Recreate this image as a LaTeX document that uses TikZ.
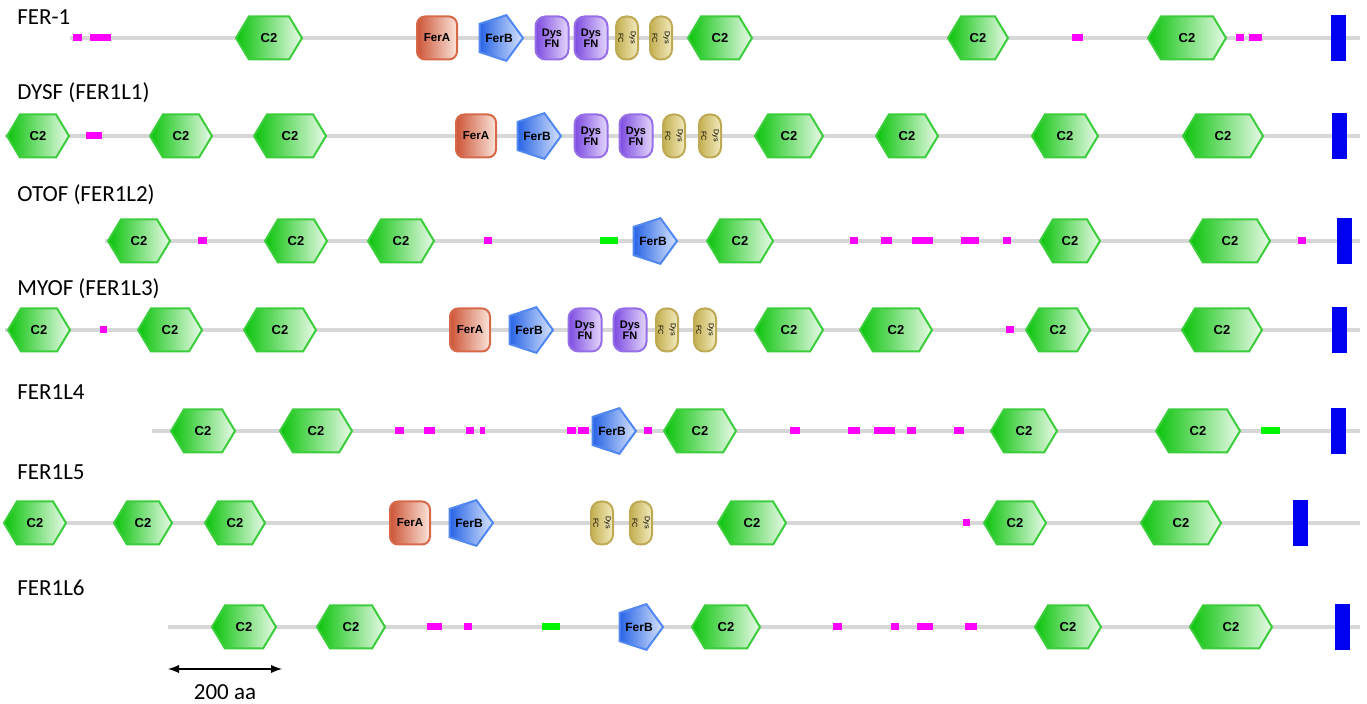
\documentclass[tikz,border=0pt]{standalone}
\usepackage{fontspec}
\setmainfont{Carlito}
\newfontfamily\arialfont{Liberation Sans}
\usepackage{xcolor}
\usetikzlibrary{arrows, positioning, shapes.symbols, shapes.geometric}

\definecolor{ctwodark}{RGB}{10,195,10}
\definecolor{ctwolight}{RGB}{232,250,232}
\definecolor{ctwoedge}{RGB}{60,205,60}
\definecolor{feradark}{RGB}{205,85,55}
\definecolor{feralight}{RGB}{250,228,218}
\definecolor{feraedge}{RGB}{215,105,75}
\definecolor{ferbdark}{RGB}{40,100,230}
\definecolor{ferblight}{RGB}{215,228,252}
\definecolor{ferbedge}{RGB}{80,135,240}
\definecolor{fndark}{RGB}{125,75,225}
\definecolor{fnlight}{RGB}{228,215,252}
\definecolor{fnedge}{RGB}{150,110,230}
\definecolor{fcdark}{RGB}{195,175,80}
\definecolor{fclight}{RGB}{242,234,190}
\definecolor{fcedge}{RGB}{190,170,85}
\definecolor{backbone}{RGB}{215,215,215}
\definecolor{markbar}{RGB}{255,0,255}
\definecolor{greenbar}{RGB}{0,245,0}
\definecolor{endbar}{RGB}{0,0,240}

\begin{document}
\begin{tikzpicture}[x=0.5pt,y=-0.5pt,
  line/.style={-,line width=2pt,color=backbone},
  mbar/.style={-,line width=3.5pt,color=markbar},
  gbar/.style={-,line width=3.5pt,color=greenbar},
  tail/.style={draw=none,fill=endbar,inner sep=0pt,minimum width=7.5pt,minimum height=23pt},
  label/.style={anchor=west,inner sep=0pt,font=\fontsize{11.5}{13}\selectfont},
  ctwo/.style={signal,signal to=west and east,signal pointer angle=118,
    draw=ctwoedge,line width=1pt,left color=ctwodark,right color=ctwolight,
    inner sep=0pt,minimum height=21.5pt,minimum width=#1,
    font=\arialfont\bfseries\fontsize{6.5}{7}\selectfont},
  ctwo/.default=32pt,
  fera/.style={rectangle,rounded corners=4pt,draw=feraedge,line width=1pt,
    left color=feradark,right color=feralight,inner sep=0pt,
    minimum width=20pt,minimum height=21.5pt,
    font=\arialfont\bfseries\fontsize{5.8}{6}\selectfont},
  ferb/.style={regular polygon,regular polygon sides=5,shape border rotate=-90,
    draw=ferbedge,line width=1pt,left color=ferbdark,right color=ferblight,
    inner sep=0pt,minimum size=24pt,
    font=\arialfont\bfseries\fontsize{6}{6}\selectfont},
  dysfn/.style={rectangle,rounded corners=5pt,draw=fnedge,line width=1pt,
    left color=fndark,right color=fnlight,inner sep=0pt,align=center,
    minimum width=16.5pt,minimum height=21.5pt,
    font=\arialfont\bfseries\fontsize{5.5}{5.5}\selectfont},
  dysfc/.style={rectangle,rounded corners=5pt,draw=fcedge,line width=1pt,
    left color=fcdark,right color=fclight,inner sep=0pt,
    minimum width=11pt,minimum height=21.5pt,
    font=\arialfont\fontsize{3.6}{3.6}\selectfont}]
\useasboundingbox (0,0) rectangle (1367,704);

% FER-1
\node[label] (T1) at (17,17) {FER-1};
\coordinate (L1a) at (70,38);
\coordinate (L1b) at (1360,38);
\draw[line] (L1a)--(L1b);
\foreach \a/\b in {73/82,90/111,1072/1083,1236/1244,1249/1262}
  \draw[mbar] (\a,38)--(\b,38);
\node[ctwo=33pt] (A1) at (269,38) {C2};
\node[fera] (A2) at (437,38) {FerA};
\node[ferb] (A3) at (499,38) {FerB};
\node[dysfn] (A4) at (552,38) {Dys\\FN};
\node[dysfn] (A5) at (591,38) {Dys\\FN};
\node[dysfc] (A6) at (627,38) {\rotatebox{-90}{\shortstack{Dys\\FC}}};
\node[dysfc] (A7) at (661,38) {\rotatebox{-90}{\shortstack{Dys\\FC}}};
\node[ctwo=32pt] (A8) at (720,38) {C2};
\node[ctwo=30pt] (A9) at (978,38) {C2};
\node[ctwo=39pt] (A10) at (1187,38) {C2};
\node[tail] (A11) at (1338.5,38) {};

% DYSF
\node[label] (T2) at (17,93) {DYSF (FER1L1)};
\coordinate (L2a) at (5,136);
\coordinate (L2b) at (1360,136);
\draw[line] (L2a)--(L2b);
\draw[mbar] (86,136)--(102,136);
\node[ctwo=31pt] (B1) at (38,136) {C2};
\node[ctwo=31pt] (B2) at (181,136) {C2};
\node[ctwo=36pt] (B3) at (290,136) {C2};
\node[fera] (B4) at (476,136) {FerA};
\node[ferb] (B5) at (537,136) {FerB};
\node[dysfn] (B6) at (591,136) {Dys\\FN};
\node[dysfn] (B7) at (636,136) {Dys\\FN};
\node[dysfc] (B8) at (674,136) {\rotatebox{-90}{\shortstack{Dys\\FC}}};
\node[dysfc] (B9) at (710,136) {\rotatebox{-90}{\shortstack{Dys\\FC}}};
\node[ctwo=34pt] (B10) at (789,136) {C2};
\node[ctwo=31pt] (B11) at (907,136) {C2};
\node[ctwo=33pt] (B12) at (1065,136) {C2};
\node[ctwo=40pt] (B13) at (1223,136) {C2};
\node[tail] (B14) at (1339,136) {};

% OTOF
\node[label] (T3) at (17,195) {OTOF (FER1L2)};
\coordinate (L3a) at (105,241);
\coordinate (L3b) at (1360,241);
\draw[line] (L3a)--(L3b);
\foreach \a/\b in {198/207,484/492,850/858,881/892,912/933,961/979,1003/1011,1298/1306}
  \draw[mbar] (\a,241)--(\b,241);
\draw[gbar] (600,241)--(618,241);
\node[ctwo=31pt] (C1) at (139,241) {C2};
\node[ctwo=31pt] (C2) at (296,241) {C2};
\node[ctwo=33pt] (C3) at (401,241) {C2};
\node[ferb] (C4) at (653,241) {FerB};
\node[ctwo=33pt] (C5) at (740,241) {C2};
\node[ctwo=30pt] (C6) at (1070,241) {C2};
\node[ctwo=40pt] (C7) at (1230,241) {C2};
\node[tail] (C8) at (1344,241) {};

% MYOF
\node[label] (T4) at (17,289) {MYOF (FER1L3)};
\coordinate (L4a) at (5,330);
\coordinate (L4b) at (1360,330);
\draw[line] (L4a)--(L4b);
\draw[mbar] (100,330)--(107,330);
\draw[mbar] (1006,330)--(1014,330);
\node[ctwo=31pt] (D1) at (39,330) {C2};
\node[ctwo=32pt] (D2) at (170,330) {C2};
\node[ctwo=36pt] (D3) at (280,330) {C2};
\node[fera] (D4) at (470,330) {FerA};
\node[ferb] (D5) at (529,330) {FerB};
\node[dysfn] (D6) at (585,330) {Dys\\FN};
\node[dysfn] (D7) at (630,330) {Dys\\FN};
\node[dysfc] (D8) at (667,330) {\rotatebox{-90}{\shortstack{Dys\\FC}}};
\node[dysfc] (D9) at (705,330) {\rotatebox{-90}{\shortstack{Dys\\FC}}};
\node[ctwo=34pt] (D10) at (789,330) {C2};
\node[ctwo=36pt] (D11) at (896,330) {C2};
\node[ctwo=32pt] (D12) at (1058,330) {C2};
\node[ctwo=40pt] (D13) at (1222,330) {C2};
\node[tail] (D14) at (1339.5,330) {};

% FER1L4
\node[label] (T5) at (17,392) {FER1L4};
\coordinate (L5a) at (152,431);
\coordinate (L5b) at (1360,431);
\draw[line] (L5a)--(L5b);
\foreach \a/\b in {395/404,424/435,466/474,480/485,567/576,578/589,644/652,790/800,848/860,874/895,907/916,954/964}
  \draw[mbar] (\a,431)--(\b,431);
\draw[gbar] (1261,431)--(1280,431);
\node[ctwo=32pt] (E1) at (203,431) {C2};
\node[ctwo=36pt] (E2) at (316,431) {C2};
\node[ferb] (E3) at (612,431) {FerB};
\node[ctwo=36pt] (E4) at (700,431) {C2};
\node[ctwo=33pt] (E5) at (1024,431) {C2};
\node[ctwo=42pt] (E6) at (1198,431) {C2};
\node[tail] (E7) at (1338.5,431) {};

% FER1L5
\node[label] (T6) at (17,472) {FER1L5};
\coordinate (L6a) at (5,523);
\coordinate (L6b) at (1360,523);
\draw[line] (L6a)--(L6b);
\draw[mbar] (963,523)--(970,523);
\node[ctwo=31pt] (F1) at (35,523) {C2};
\node[ctwo=29pt] (F2) at (143,523) {C2};
\node[ctwo=30pt] (F3) at (235,523) {C2};
\node[fera] (F4) at (410,523) {FerA};
\node[ferb] (F5) at (469,523) {FerB};
\node[dysfc] (F6) at (602,523) {\rotatebox{-90}{\shortstack{Dys\\FC}}};
\node[dysfc] (F7) at (641,523) {\rotatebox{-90}{\shortstack{Dys\\FC}}};
\node[ctwo=34pt] (F8) at (752,523) {C2};
\node[ctwo=31pt] (F9) at (1015,523) {C2};
\node[ctwo=40pt] (F10) at (1181,523) {C2};
\node[tail] (F11) at (1300,523) {};

% FER1L6
\node[label] (T7) at (17,588) {FER1L6};
\coordinate (L7a) at (168,627);
\coordinate (L7b) at (1360,627);
\draw[line] (L7a)--(L7b);
\foreach \a/\b in {427/442,464/472,833/842,891/899,917/933,965/977}
  \draw[mbar] (\a,627)--(\b,627);
\draw[gbar] (542,627)--(560,627);
\node[ctwo=32pt] (G1) at (244,627) {C2};
\node[ctwo=34pt] (G2) at (351,627) {C2};
\node[ferb] (G3) at (639,627) {FerB};
\node[ctwo=34pt] (G4) at (726,627) {C2};
\node[ctwo=33pt] (G5) at (1068,627) {C2};
\node[ctwo=41pt] (G6) at (1231,627) {C2};
\node[tail] (G7) at (1342.5,627) {};

% scale
\coordinate (S1) at (168,669);
\coordinate (S2) at (282,669);
\draw[latex-latex,line width=0.9pt] (S1)--(S2);
\node[font=\fontsize{11.5}{13}\selectfont] (S3) at (225,692) {200 aa};
\end{tikzpicture}
\end{document}
